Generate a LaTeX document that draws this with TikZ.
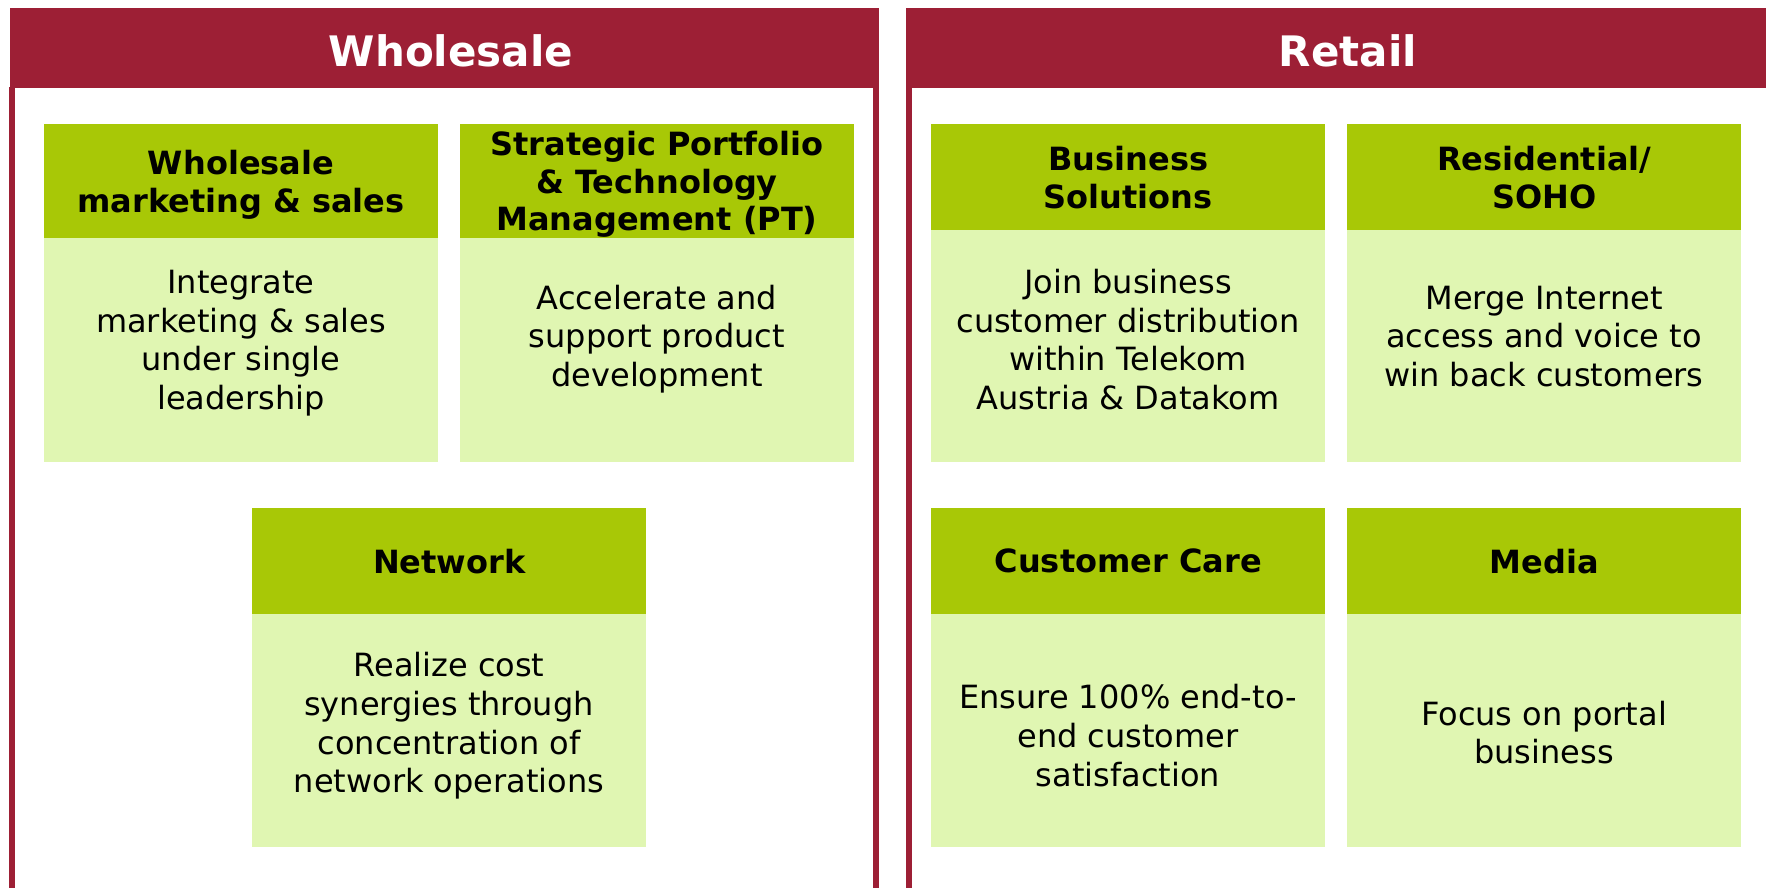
\documentclass[tikz,border=0pt]{standalone}
\usepackage{fontspec}
\setmainfont{DejaVu Sans}
\definecolor{wine}{HTML}{9D1F35}
\definecolor{hdrgreen}{HTML}{A8C806}
\definecolor{bodygreen}{HTML}{E0F6B2}
\tikzset{
  px/.style={x=0.75pt,y=-0.75pt},
  paneltitle/.style={text=white,font=\bfseries\fontsize{31.5}{36}\selectfont,inner sep=0pt},
  hdrbox/.style={fill=hdrgreen,anchor=north west,inner sep=0pt,minimum width=295.5pt,
     align=center,font=\bfseries\fontsize{24}{28.3}\selectfont},
  hdrtext/.style={align=center,inner sep=0pt,font=\bfseries\fontsize{24}{28.3}\selectfont},
  bodybox/.style={fill=bodygreen,anchor=north west,inner sep=0pt,minimum width=295.5pt,
     minimum height=168pt},
  bodytext/.style={align=center,inner sep=0pt,font=\fontsize{24}{29}\selectfont},
  border/.style={draw=wine,line width=4.5pt}
}
\begin{document}
\begin{tikzpicture}[px]
\useasboundingbox (0,0) rectangle (1766,888);
% panels
\fill[wine] (9.5,8.5) rectangle (879.3,88);
\draw[border] (12.3,87) -- (12.3,895);
\draw[border] (876.3,87) -- (876.3,895);
\fill[wine] (905.7,8.5) rectangle (1766,88);
\draw[border] (908.5,87) -- (908.5,895);
\node[paneltitle] (wtitle) at (451,51) {Wholesale};
\node[paneltitle] (rtitle) at (1348,51) {Retail};
% Wholesale boxes
\node[hdrbox,minimum height=85.5pt] (h1) at (44,124) {};
\node[hdrtext] (ht1) at (241,185) {Wholesale\\marketing \& sales};
\node[bodybox] (b1) at (44,238) {};
\node[bodytext] (t1) at (241,343) {Integrate\\marketing \& sales\\under single\\leadership};
\node[hdrbox,minimum height=85.5pt] (h2) at (460,124) {};
\node[hdrtext] (ht2) at (657,184.5) {Strategic Portfolio\\\& Technology\\Management (PT)};
\node[bodybox] (b2) at (460,238) {};
\node[bodytext] (t2) at (657,339) {Accelerate and\\support product\\development};
\node[hdrbox,minimum height=79.5pt] (h3) at (252,508) {Network};
\node[bodybox,minimum height=174.75pt] (b3) at (252,614) {};
\node[bodytext] (t3) at (449,726) {Realize cost\\synergies through\\concentration of\\network operations};
% Retail boxes
\node[hdrbox,minimum height=79.5pt] (h4) at (931,124) {Business\\Solutions};
\node[bodybox,minimum height=174pt] (b4) at (931,230) {};
\node[bodytext] (t4) at (1128,339.5) {Join business\\customer distribution\\within Telekom\\Austria \& Datakom};
\node[hdrbox,minimum height=79.5pt] (h5) at (1347,124) {Residential/\\SOHO};
\node[bodybox,minimum height=174pt] (b5) at (1347,230) {};
\node[bodytext] (t5) at (1544,336.5) {Merge Internet\\access and voice to\\win back customers};
\node[hdrbox,minimum height=79.5pt] (h6) at (931,508) {Customer Care};
\node[bodybox,minimum height=174.75pt] (b6) at (931,614) {};
\node[bodytext] (t6) at (1128,735.5) {Ensure 100\% end-to-\\end customer\\satisfaction};
\node[hdrbox,minimum height=79.5pt] (h7) at (1347,508) {Media};
\node[bodybox,minimum height=174.75pt] (b7) at (1347,614) {};
\node[bodytext] (t7) at (1544,732.5) {Focus on portal\\business};
\end{tikzpicture}
\end{document}
